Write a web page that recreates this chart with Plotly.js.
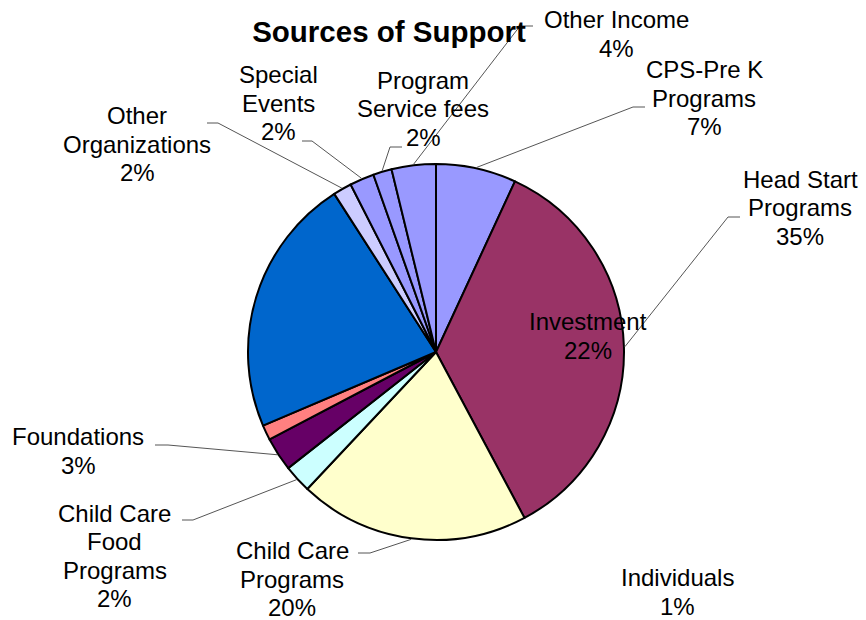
<!DOCTYPE html>
<html>
<head>
<meta charset="utf-8">
<script src="https://cdn.plot.ly/plotly-3.0.1.min.js"></script>
<style>html,body{margin:0;padding:0;background:#fff;}#chart{width:866px;height:620px;}</style>
</head>
<body>
<div id="chart"></div>
<script>
// ---- data ----
const labels = ["CPS-Pre K\nPrograms", "Head Start\nPrograms", "Child Care\nPrograms", "Child Care\nFood\nPrograms",
  "Foundations", "Individuals", "Investment", "Other\nOrganizations", "Special\nEvents", "Program\nService fees", "Other Income"];
const values = [6.9, 35.3, 19.8, 2.4, 2.9, 1.3, 22.3, 1.6, 2.1, 1.6, 3.8];
const colors = ["#9999FF", "#993366", "#FFFFCC", "#CCFFFF", "#660066", "#FF8080", "#0066CC", "#CCCCFF", "#9999FF", "#9999FF", "#9999FF"];

// ---- layout constants (pixels) ----
const W = 866, H = 620;
const CX = 436, CY = 352, R = 188;
const FONT = "Liberation Sans, Arial, sans-serif";
const FS = 24, LS = 28.5;
// label block centres
const labelPos = [
  [704, 98], [800, 208], [292, 579], [115, 556], [78, 451], [677, 592],
  [588, 336], [137, 144], [278, 103], [423, 109], [616, 34]
];
// leader lines: [stubStartX, stubEndX, y] ; elbow is the end nearer the pie; null = no leader
const leaders = [
  [645, 633, 107], [740, 728, 217], [358, 370, 553], [182, 193, 520], [155, 168, 445], null,
  null, [207, 218, 123], [302, 312, 141], [402, 390, 147], [533, 520, 26]
];

const px = x => x / W, py = y => 1 - y / H;
const total = values.reduce((a, b) => a + b, 0);

const annotations = [];
const shapes = [];
let cum = 0;
values.forEach((v, i) => {
  const mid = (cum + v / 2) / total;
  cum += v;
  const pct = Math.round(v / total * 100) + "%";
  const lines = labels[i].split("\n").concat([pct]);
  const [lx, ly] = labelPos[i];
  lines.forEach((t, k) => {
    annotations.push({
      xref: "paper", yref: "paper", x: px(lx), y: py(ly + (k - (lines.length - 1) / 2) * LS),
      xanchor: "center", yanchor: "middle", showarrow: false, text: t,
      font: {family: FONT, size: FS, color: "#000"}
    });
  });
  const L = leaders[i];
  if (L) {
    const th = 2 * Math.PI * mid;
    const ex = CX + (R + 1) * Math.sin(th), ey = CY - (R + 1) * Math.cos(th);
    const ln = {color: "#555555", width: 1};
    shapes.push({type: "line", xref: "paper", yref: "paper", x0: px(L[0]), y0: py(L[2]), x1: px(L[1]), y1: py(L[2]), line: ln});
    shapes.push({type: "line", xref: "paper", yref: "paper", x0: px(L[1]), y0: py(L[2]), x1: px(ex), y1: py(ey), line: ln});
  }
});

const trace = {
  type: "pie",
  labels: labels.map(s => s.replace(/\n/g, " ")),
  values: values,
  sort: false,
  direction: "clockwise",
  rotation: 0,
  textinfo: "none",
  hoverinfo: "none",
  marker: {colors: colors, line: {color: "#000000", width: 2}},
  domain: {x: [(CX - R) / W, (CX + R) / W], y: [1 - (CY + R) / H, 1 - (CY - R) / H]}
};

const layout = {
  width: W, height: H,
  margin: {l: 0, r: 0, t: 0, b: 0},
  paper_bgcolor: "#ffffff",
  showlegend: false,
  title: {text: "<b>Sources of Support</b>", x: px(389), y: py(32), xanchor: "center", yanchor: "middle", xref: "paper", yref: "paper",
    font: {family: FONT, size: 29.5, color: "#000"}},
  annotations: annotations,
  shapes: shapes
};

Plotly.newPlot("chart", [trace], layout, {staticPlot: true, displayModeBar: false});
</script>
</body>
</html>
